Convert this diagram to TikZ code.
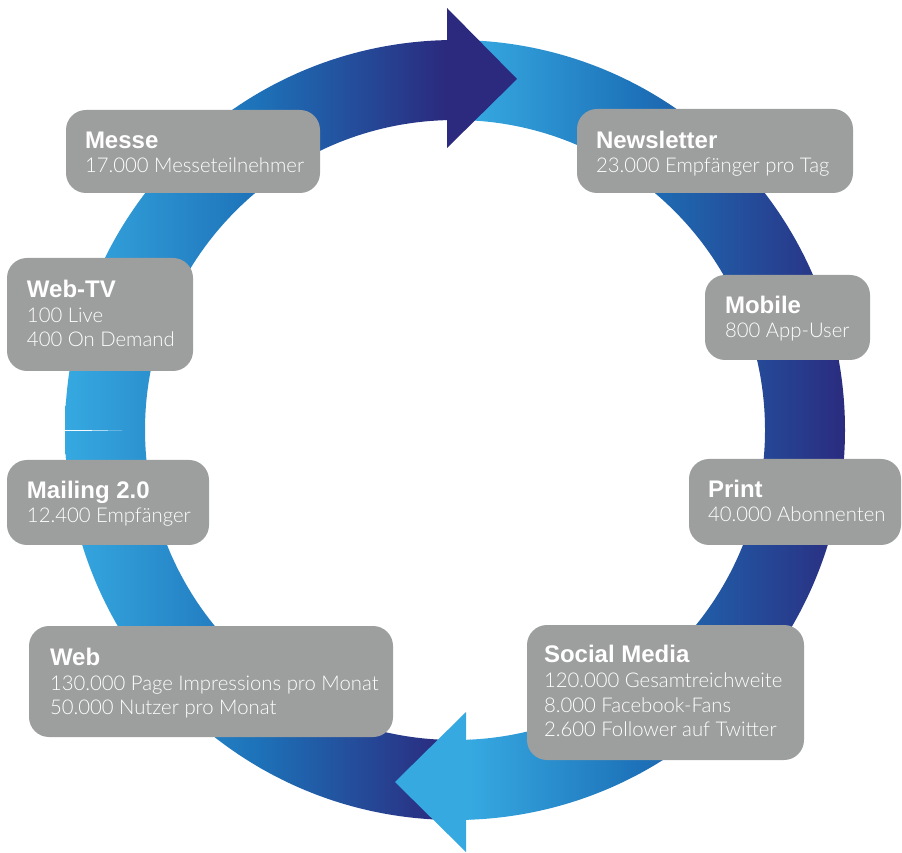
\documentclass[tikz,border=0pt]{standalone}
\usepackage{fontspec}
\setmainfont{Liberation Sans}
\newfontfamily\headfont{Liberation Sans}
\IfFontExistsTF{Lato Light}{\newfontfamily\lightfont{Lato Light}}{\newfontfamily\lightfont{Liberation Sans}}
\newcommand\boxtitle{\headfont\bfseries\fontsize{24}{24.7}\selectfont}
\definecolor{lightblue}{HTML}{36A9E1}
\definecolor{midblue}{HTML}{1D71B8}
\definecolor{navy}{HTML}{2B2A7E}
\definecolor{boxgray}{HTML}{9D9E9E}
\begin{document}
\begin{tikzpicture}[x=1pt,y=1pt,
  infobox/.style={fill=boxgray, rounded corners=20pt, inner sep=0pt, draw=none},
  infotext/.style={anchor=base west, inner sep=0pt, align=left, text=white,
    font=\lightfont\fontsize{20.3}{24.7}\selectfont},
]
\useasboundingbox (0,0) rectangle (902,852);
\coordinate (c) at (455,422);

% right half of the ring (light -> dark)
\begin{scope}
  \clip ([shift={(90:390)}]c) arc[start angle=90, end angle=-89, radius=390]
    -- ([shift={(-89:310)}]c) arc[start angle=-89, end angle=90, radius=310] -- cycle;
  \fill[lightblue] (430,0) rectangle (470.5,852);
  \shade[left color=lightblue, right color=midblue] (470,0) rectangle (640.5,852);
  \shade[left color=midblue, right color=navy] (640,0) rectangle (850,852);
\end{scope}

% left half of the ring (light -> dark)
\begin{scope}
  \clip ([shift={(-90:390)}]c) arc[start angle=-90, end angle=-268.8, radius=390]
    -- ([shift={(91.2:310)}]c) arc[start angle=91.2, end angle=270, radius=310] -- cycle;
  \fill[lightblue] (60,0) rectangle (65.5,852);
  \shade[left color=lightblue, right color=midblue] (65,0) rectangle (260.5,852);
  \shade[left color=midblue, right color=navy] (260,0) rectangle (445.5,852);
  \fill[navy] (445,0) rectangle (470,852);
\end{scope}

% thin seam on the left side
\fill[white, opacity=0.95] (65,421.6) rectangle (92,422.4);
\fill[white, opacity=0.6] (92,421.6) rectangle (108,422.4);
\fill[white, opacity=0.25] (108,421.6) rectangle (122,422.4);

% arrowheads
\fill[navy] (447,844) -- (517,773) -- (447,704) -- cycle;
\fill[lightblue] (466,140) -- (395,70) -- (466,0) -- cycle;

% boxes
\node[infobox, minimum width=254pt, minimum height=83pt] (messe) at (193,700.5) {};
\node[infobox, minimum width=276pt, minimum height=84pt] (news) at (715,701) {};
\node[infobox, minimum width=186pt, minimum height=113pt] (webtv) at (100,537.5) {};
\node[infobox, minimum width=165pt, minimum height=85pt] (mobile) at (787.5,534.5) {};
\node[infobox, minimum width=202pt, minimum height=85pt] (mailing) at (108,349.5) {};
\node[infobox, minimum width=212pt, minimum height=86pt] (print) at (795,350) {};
\node[infobox, minimum width=364pt, minimum height=111pt] (web) at (211,170.5) {};
\node[infobox, minimum width=277pt, minimum height=135pt] (social) at (665.5,159.5) {};

% texts (anchor = baseline of the last line)
\node[infotext] (messe-t) at ([shift={(19,-63)}]messe.north west)
  {{\boxtitle Messe}\\17.000 Messeteilnehmer};
\node[infotext] (news-t) at ([shift={(19,-64)}]news.north west)
  {{\boxtitle Newsletter}\\23.000 Empfänger pro Tag};
\node[infotext] (webtv-t) at ([shift={(20,-89)}]webtv.north west)
  {{\boxtitle Web-TV}\\100 Live\\400 On Demand};
\node[infotext] (mobile-t) at ([shift={(20,-63)}]mobile.north west)
  {{\boxtitle Mobile}\\800 App-User};
\node[infotext] (mailing-t) at ([shift={(20,-63)}]mailing.north west)
  {{\boxtitle Mailing 2.0}\\12.400 Empfänger};
\node[infotext] (print-t) at ([shift={(19,-63)}]print.north west)
  {{\boxtitle Print}\\40.000 Abonnenten};
\node[infotext] (web-t) at ([shift={(21,-89)}]web.north west)
  {{\boxtitle Web}\\130.000 Page Impressions pro Monat\\50.000 Nutzer pro Monat};
\node[infotext] (social-t) at ([shift={(17,-112)}]social.north west)
  {{\boxtitle Social Media}\\120.000 Gesamtreichweite\\8.000 Facebook-Fans\\2.600 Follower auf Twitter};
\end{tikzpicture}
\end{document}
